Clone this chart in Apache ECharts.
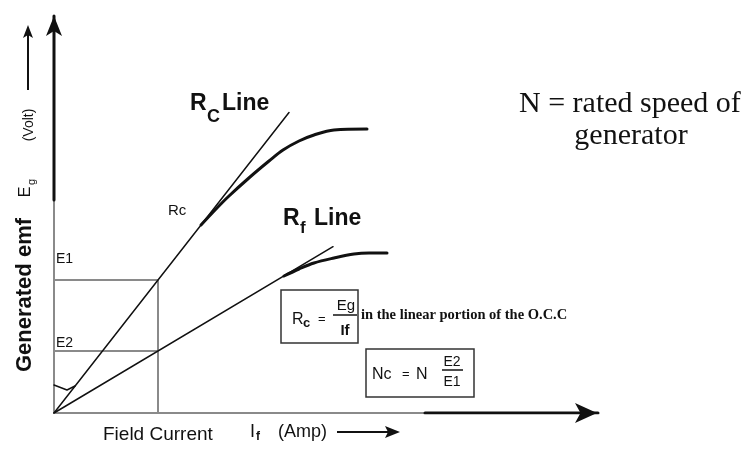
<!DOCTYPE html>
<html><head><meta charset="utf-8">
<script src="https://cdn.jsdelivr.net/npm/echarts@6/dist/echarts.min.js"></script>
<style>html,body{margin:0;padding:0;background:#fff}#c{width:749px;height:449px}</style>
</head><body><div id="c"></div>
<script>
// Axis extents (field current and generated emf, arbitrary units)
const xMax = 5.54;
const yMax = 4.07;
// Where the thin grey part of each axis turns into the heavy black part
const xAxisHeavyFrom = 3.71;
const yAxisHeavyFrom = 2.13;
// Operating point of the E1 / E2 construction
const fieldCurrent1 = 1.04;
const e1Level = 1.33;
const e2Level = 0.62;
// Critical field resistance line (Rc) and field resistance line (Rf)
const rcLine = [[0, 0], [2.35, 3.005]];
const rfLine = [[0, 0], [2.79, 1.663]];
// O.C.C at rated speed: residual-magnetism start and saturating knee
const occResidual = [[0, 0.28], [0.13, 0.23], [0.21, 0.27]];
const occRated = [[1.47, 1.88], [1.62, 2.04], [1.75, 2.17], [1.96, 2.36], [2.15, 2.52], [2.29, 2.63], [2.45, 2.72], [2.6, 2.78], [2.8, 2.83], [3.13, 2.84]];
// O.C.C at the critical speed Nc
const occCritical = [[2.3, 1.37], [2.45, 1.44], [2.6, 1.5], [2.8, 1.55], [3.0, 1.59], [3.15, 1.6], [3.33, 1.6]];

const chart = echarts.init(document.getElementById('c'), null, { renderer: 'canvas' });

const GREY = '#8a8a8a';
const INK = '#111';
const SANS = 'Liberation Sans';
const SERIF = 'Liberation Serif';

function seg(data, color, width, z) {
  return {
    type: 'line', data: data, showSymbol: false, symbol: 'none', silent: true,
    lineStyle: { color: color, width: width, cap: 'round', join: 'round' }, z: z || 2, animation: false
  };
}
function smoothSeg(data, color, width) {
  const s = seg(data, color, width, 3);
  s.smooth = 0.35;
  return s;
}

function txt(x, y, text, size, opts) {
  opts = opts || {};
  return {
    type: 'text', x: x, y: y, rotation: opts.rotation || 0, z: 10,
    style: {
      text: text, fill: opts.fill || INK,
      font: (opts.weight || 'normal') + ' ' + size + 'px "' + (opts.family || SANS) + '"',
      align: opts.align || 'left', verticalAlign: 'middle'
    }
  };
}

const option = {
  animation: false,
  grid: { left: 54, right: 141, top: 6, bottom: 36 },
  xAxis: { type: 'value', min: 0, max: xMax, show: false },
  yAxis: { type: 'value', min: 0, max: yMax, show: false },
  series: [
    // axes
    seg([[0, 0], [xAxisHeavyFrom, 0]], GREY, 2, 1),
    seg([[xAxisHeavyFrom, 0], [xMax - 0.1, 0]], INK, 3, 1),
    seg([[0, 0], [0, yAxisHeavyFrom]], GREY, 2, 1),
    seg([[0, yAxisHeavyFrom], [0, yMax - 0.1]], INK, 3, 1),
    {
      type: 'scatter', silent: true, animation: false, z: 4,
      data: [{ value: [0, yMax], symbolRotate: 0, symbolSize: [12, 20], symbolOffset: [0, 10] },
             { value: [xMax, 0], symbolRotate: -90, symbolSize: [15, 22], symbolOffset: [-11, 0] }],
      symbol: 'arrow', itemStyle: { color: INK, opacity: 1 }
    },
    // E1 / E2 construction
    seg([[0, e1Level], [fieldCurrent1, e1Level], [fieldCurrent1, 0]], GREY, 2, 1),
    seg([[0, e2Level], [fieldCurrent1, e2Level]], GREY, 2, 1),
    // resistance lines
    seg(rcLine, INK, 1.5, 2),
    seg(rfLine, INK, 1.5, 2),
    // magnetisation curves
    seg(occResidual, INK, 1.5, 2),
    smoothSeg(occRated, INK, 3),
    smoothSeg(occCritical, INK, 3)
  ],
  graphic: [
    // y-axis title
    txt(25, 295, 'Generated emf', 22, { weight: 'bold', align: 'center', rotation: Math.PI / 2 }),
    txt(26, 192, 'E', 16, { align: 'center', rotation: Math.PI / 2 }),
    txt(32, 182, 'g', 11, { align: 'center', rotation: Math.PI / 2 }),
    txt(29, 125, '(Volt)', 14, { align: 'center', rotation: Math.PI / 2 }),
    { type: 'line', z: 10, shape: { x1: 28, y1: 90, x2: 28, y2: 34 }, style: { stroke: INK, lineWidth: 2 } },
    { type: 'polygon', z: 10, shape: { points: [[28, 25], [33, 38], [28, 35], [23, 38]] }, style: { fill: INK } },

    // line labels
    txt(190, 104, 'R', 23, { weight: 'bold' }),
    txt(207, 117, 'C', 18, { weight: 'bold' }),
    txt(222, 104, 'Line', 23, { weight: 'bold' }),
    txt(283, 219, 'R', 23, { weight: 'bold' }),
    txt(300, 228, 'f', 17, { weight: 'bold' }),
    txt(314, 219, 'Line', 23, { weight: 'bold' }),
    txt(168, 211, 'Rc', 15),
    txt(56, 259, 'E1', 14),
    txt(56, 343, 'E2', 14),

    // x-axis titles
    txt(103, 435, 'Field Current', 19),
    txt(250, 432, 'I', 18),
    txt(256, 437, 'f', 12, { weight: 'bold' }),
    txt(278, 432, '(Amp)', 18),
    { type: 'line', z: 10, shape: { x1: 337, y1: 432, x2: 390, y2: 432 }, style: { stroke: INK, lineWidth: 2 } },
    { type: 'polygon', z: 10, shape: { points: [[400, 432], [385, 426], [388, 432], [385, 438]] }, style: { fill: INK } },

    // Rc definition box
    { type: 'rect', z: 10, shape: { x: 281, y: 290, width: 77, height: 53 }, style: { fill: 'none', stroke: '#333', lineWidth: 1.5 } },
    txt(292, 320, 'R', 16),
    txt(303, 323, 'c', 13, { weight: 'bold' }),
    txt(318, 319, '=', 13),
    txt(346, 306, 'Eg', 15, { align: 'center' }),
    { type: 'line', z: 10, shape: { x1: 333, y1: 315, x2: 357, y2: 315 }, style: { stroke: INK, lineWidth: 1.5 } },
    txt(345, 331, 'If', 15, { align: 'center', weight: 'bold' }),
    txt(361, 315, 'in the linear portion of the O.C.C', 14.5, { weight: 'bold', family: SERIF }),

    // critical speed box
    { type: 'rect', z: 10, shape: { x: 366, y: 349, width: 108, height: 48 }, style: { fill: 'none', stroke: '#333', lineWidth: 1.5 } },
    txt(372, 375, 'Nc', 16),
    txt(402, 374, '=', 13),
    txt(416, 375, 'N', 16),
    txt(452, 362, 'E2', 14, { align: 'center' }),
    { type: 'line', z: 10, shape: { x1: 442, y1: 370, x2: 463, y2: 370 }, style: { stroke: INK, lineWidth: 1.5 } },
    txt(452, 382, 'E1', 14, { align: 'center' }),

    // note on the right
    txt(519, 104, 'N = rated speed of', 30, { family: SERIF }),
    txt(631, 136, 'generator', 30, { family: SERIF, align: 'center' })
  ]
};
chart.setOption(option);
</script>
</body></html>
